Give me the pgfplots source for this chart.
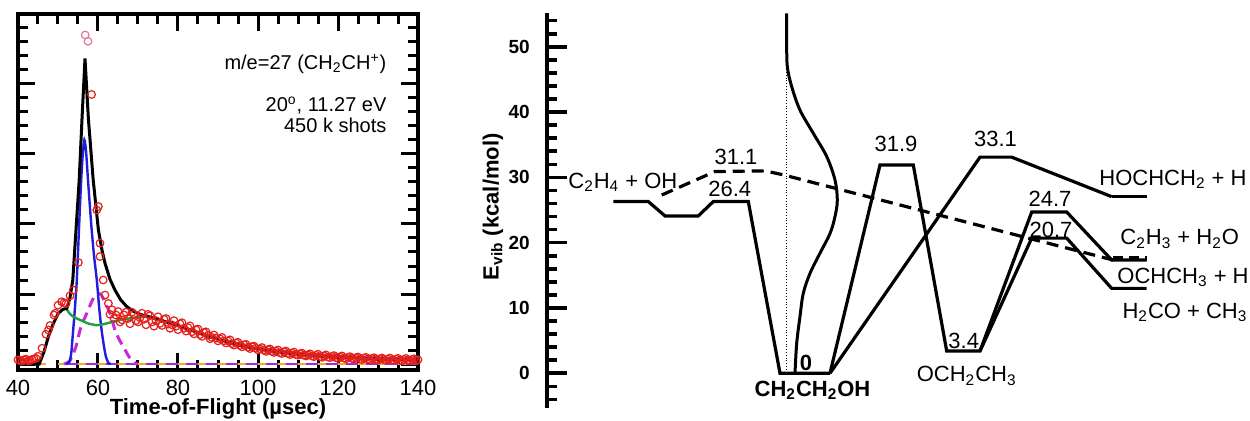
\documentclass[border=0pt]{standalone}
\usepackage{pgfplots}
\pgfplotsset{compat=1.18}
\usepackage{fontspec}
\setmainfont{Liberation Sans}
\definecolor{datred}{RGB}{228,32,28}
\definecolor{pinkc}{RGB}{225,120,150}
\definecolor{fitblue}{RGB}{30,30,220}
\definecolor{fitgreen}{RGB}{30,160,60}
\definecolor{fitmag}{RGB}{200,40,220}
\definecolor{basepurp}{RGB}{160,40,230}
\definecolor{baseorange}{RGB}{240,170,40}
\begin{document}
\begin{tikzpicture}
\useasboundingbox (0,0) rectangle (625pt,210.5pt);
% ---------------- left panel ----------------
\begin{axis}[
  at={(9pt,25.5pt)}, anchor=south west,
  scale only axis, width=200pt, height=178pt,
  xmin=40, xmax=140, ymin=-1.71, ymax=100,
  xtick={40,60,...,140}, minor xtick={45,50,...,135},
  ytick={0,20,...,100}, minor ytick={4,8,...,96},
  yticklabels={},
  tick align=inside,
  major tick length=8.5pt, minor tick length=5pt,
  every tick/.style={black, line width=1.5pt},
  every minor tick/.style={black, line width=1.5pt},
  every major tick/.style={black, line width=1.5pt},
  axis line style={line width=2pt},
  /pgf/number format/assume math mode=true,
  xticklabel style={font=\fontsize{11}{13}\selectfont, yshift=-1.5pt},
  xlabel={Time-of-Flight (µsec)},
  xlabel style={font=\fontsize{11}{13}\selectfont\bfseries, at={(axis description cs:0.5,0)}, anchor=center, yshift=-19.5pt},
  clip=true,
]
\addplot[only marks, mark=o, mark size=1.9pt, mark options={datred, line width=0.6pt}] coordinates {
(40,1.2)(40.5,1.0)(41,0.8)(41.5,1.2)(42,1.4)(42.5,0.9)(43,1.0)(43.5,1.3)(44,1.5)(44.5,1.6)(45,2.2)(46,4.5)(47,8.5)(47.6,9.7)(48,11.0)(49,14.0)(49.3,14.5)(50,16.8)(50.9,17.8)(51.5,17.5)(52,17.3)(53,19.5)(53.8,21.1)(55.1,29)
(58.4,77)(59.7,44)(60.1,45)(60.5,30.7)(60.5,34.5)(61.3,24)(61.75,19.7)(62.6,17.3)(63,14.2)
(64,13.0)(65,15.0)(66,12.6)(67,14.8)(68,11.5)(69,14.2)(70,12.0)(71,14.5)(72,11.2)(73,13.8)(74,10.8)(75,13.5)(76,11.0)(77,13.0)(78,10.2)(79,12.4)(80,9.8)(81,11.8)(82,9.4)(83,10.9)(84,8.6)(85,10.0)(86,7.9)(87,9.2)(88,7.2)(89,8.3)(90,6.6)(91,7.6)(92,6.0)(93,6.9)(94,5.4)(95,6.2)(96,4.9)(97,5.6)(98,4.4)(99,5.1)(100,4.0)(101,4.7)(102,3.6)(103,4.3)(104,3.3)(105,4.0)(106,3.0)(107,3.7)(108,2.7)(109,3.4)(110,2.5)(111,3.1)(112,2.3)(113,2.9)(114,2.1)(115,2.8)(116,1.9)(117,2.6)(118,1.8)(119,2.4)(120,1.6)(121,2.3)(122,1.5)(123,2.1)(124,1.4)(125,2.0)(126,1.3)(127,1.9)(128,1.2)(129,1.8)(130,1.1)(131,1.7)(132,1.0)(133,1.7)(134,1.0)(135,1.6)(136,0.9)(137,1.6)(138,0.9)(139,1.5)(140,1.2)
(63.5,15.5)(64.5,14.0)(65.5,12.0)(66.5,14.0)(67.5,13.0)(68.5,14.8)(69.5,12.4)(70.5,13.2)(71.5,12.8)(72.5,14.2)(73.5,12.0)(74.5,12.4)(75.5,11.6)(76.5,12.8)(77.5,11.4)(78.5,11.2)(79.5,10.8)(80.5,11.5)(81.5,10.2)(82.5,10.4)(83.5,9.2)(84.5,9.8)(85.5,8.4)(86.5,9.0)(87.5,8.2)(88.5,7.6)(89.5,7.4)(90.5,7.2)(91.5,6.6)(92.5,6.6)(93.5,5.8)(94.5,6.0)(95.5,5.3)(96.5,5.5)(97.5,4.8)(98.5,5.0)(99.5,4.5)(100.5,4.3)(101.5,4.0)(102.5,4.1)(103.5,3.6)(104.5,3.7)(105.5,3.2)(106.5,3.5)(107.5,3.0)(108.5,3.1)(109.5,2.7)(110.5,2.9)(111.5,2.5)(112.5,2.6)(113.5,2.3)(114.5,2.5)(115.5,2.1)(116.5,2.3)(117.5,2.0)(118.5,2.2)(119.5,1.8)(120.5,2.0)(121.5,1.7)(122.5,1.9)(123.5,1.6)(124.5,1.8)(125.5,1.5)(126.5,1.7)(127.5,1.4)(128.5,1.6)(129.5,1.3)(130.5,1.5)(131.5,1.3)(132.5,1.4)(133.5,1.2)(134.5,1.4)(135.5,1.1)(136.5,1.3)(137.5,1.1)(138.5,1.3)(139.5,1.0)
};
\addplot[only marks, mark=o, mark size=1.9pt, mark options={pinkc, line width=0.6pt}] coordinates {(56.8,94)(57.5,92.2)};
\addplot[basepurp, line width=1.2pt] coordinates {(51.5,0)(140,0)};
\addplot[baseorange, line width=1.2pt, dash pattern=on 4pt off 6pt] coordinates {(40,0)(140,0)};
\addplot[fitmag, line width=1.5pt, dash pattern=on 5pt off 3pt, smooth, tension=0.4] coordinates {
(51.5,0)(53,1)(54.5,5)(55.5,9.7)(56.4,12.5)(57.2,14.5)(58.5,18)(59.3,19.6)(60.1,20.2)(60.9,19.6)(62,17)(63,14.5)(64.25,9.7)(65.3,7)(66.3,5)(67.8,2)(69.25,0.3)(70,0)};
\addplot[fitblue, line width=1.2pt, smooth, tension=0.4] coordinates {
(52,0)(52.8,0.5)(53.3,3)(53.8,9.7)(54.3,17)(54.7,24)(55.3,40)(55.8,52.6)(56.2,60)(56.6,64)(57,61)(57.5,52.6)(58.3,40)(59,31)(59.7,24)(60.3,16)(60.9,9.7)(61.5,5)(62,2)(62.6,0.3)(63.2,0)};
\addplot[fitgreen, line width=1.2pt, smooth, tension=0.4] coordinates {
(52,15.9)(53,14.3)(54,13.4)(55.5,12.6)(57.5,11.6)(59.7,11.1)(61.5,11.4)(63.8,12.1)(66,12.7)(68,13.05)(70,13.4)(72.2,13.5)(74,13.1)(76,12.4)(78,11.7)(80,11.0)(84,9.4)(88,7.8)(92,6.4)(96,5.2)(100,4.3)(106,3.3)(114,2.4)(122,1.9)(130,1.5)(140,1.1)};
\addplot[black, line width=1.5pt] coordinates {
(40,0)(45.3,0)(46.5,3.5)(47.6,7.8)(48.8,11.5)(50.1,14.5)(51.2,15.6)(52.2,15.9)(53,19)(53.7,24)(54.5,38.3)(55.3,52.6)(56,70)(56.75,87.3)(57.6,70)(58.8,52.6)(60.1,38.3)(61,32.5)(61.75,28.8)(63,24.2)(64.25,21.1)(65.7,18.3)(67.2,16.4)(68.8,15.1)(70.5,14.2)(72,13.7)(74,13.1)(76,12.4)(78,11.7)(80,11.0)(82,10.2)(84,9.4)(86,8.6)(88,7.8)(90,7.1)(92,6.4)(94,5.8)(96,5.2)(98,4.7)(100,4.3)(103,3.8)(106,3.3)(110,2.8)(114,2.4)(118,2.1)(122,1.9)(126,1.7)(130,1.5)(135,1.3)(140,1.1)};
\node[anchor=base east, inner sep=0, font=\fontsize{10}{12}\selectfont] at (axis cs:132.2,84.2) {m/e=27 (CH\textsubscript{2}CH\textsuperscript{+})};
\node[anchor=base east, inner sep=0, font=\fontsize{10}{12}\selectfont] at (axis cs:132.2,72.1) {20\textsuperscript{o}, 11.27 eV};
\node[anchor=base east, inner sep=0, font=\fontsize{10}{12}\selectfont] at (axis cs:132.2,66.2) {450 k shots};
\end{axis}
% ---------------- right panel ----------------
\begin{axis}[
  at={(273.35pt,6.35pt)}, anchor=south west,
  scale only axis, width=351.65pt, height=197.4pt,
  xmin=546.7, xmax=1250, ymin=-5.36, ymax=55.1,
  axis x line=none, axis y line*=left,
  xtick=\empty,
  ytick={0,10,...,50}, minor ytick={-4,-2,...,54},
  tick align=inside,
  major tick length=10pt, minor tick length=5.3pt,
  tick style={black, line width=1.8pt},
  axis line style={line width=2pt},
  /pgf/number format/assume math mode=true,
  yticklabel style={font=\fontsize{9.5}{11}\selectfont\bfseries, xshift=-5pt},
  clip=false,
]
\addplot[black, line width=1.6pt] coordinates {(613.3,26.3)(648.3,26.3)(665,24.1)(698.3,24.1)(713.3,26.3)(748.3,26.3)(780,0)(830,0)};
\addplot[black, line width=1.6pt, dash pattern=on 6pt off 3.5pt] coordinates {(661.7,27.3)(715,30.9)(765,31.0)(783,30.4)(1113,17.35)};
\addplot[black, line width=2.6pt, dash pattern=on 5pt off 3pt] coordinates {(1113,17.6)(1146.7,17.6)};
\addplot[black, line width=1.6pt] coordinates {(830,0)(880,31.9)(913.3,31.9)(946.7,3.4)(980,3.4)(1031.7,24.7)(1066.7,24.7)(1111.7,17.35)(1146.7,17.35)};
\addplot[black, line width=1.6pt] coordinates {(980,3.4)(1031.7,20.7)(1066.7,20.7)(1111.7,13.0)(1146.7,13.0)};
\addplot[black, line width=1.6pt] coordinates {(830,0)(980,33.1)(1011.7,33.1)(1111.7,27.05)};
\addplot[black, line width=1.2pt] coordinates {(1111.7,27.05)(1146.7,27.05)};
\addplot[black, line width=0.4pt, densely dotted] coordinates {(786.7,47)(786.7,0)};
\addplot[black, line width=1.5pt, smooth, tension=0.55] coordinates {(786.7,55.1)(786.7,51)(787.3,47)(791.7,43.9)(800,40.3)(813.3,36.75)(826.7,33.2)(835,29.6)(837.3,26.5)(835,24)(830,21.4)(820,18.4)(810,15.3)(803.3,12.25)(800,8.7)(796.7,4.6)(795,0)};
\node[rotate=90, anchor=center, inner sep=0, font=\fontsize{11}{13}\selectfont\bfseries] at (axis cs:493,25.5) {E\textsubscript{vib} (kcal/mol)};
\begin{scope}[every node/.style={inner sep=0, font=\fontsize{11}{13}\selectfont}]
\node[anchor=base west] at (axis cs:568,28.3) {C\textsubscript{2}H\textsubscript{4} + OH};
\node[anchor=base] at (axis cs:736,31.9) {31.1};
\node[anchor=base] at (axis cs:729.7,27.05) {26.4};
\node[anchor=base] at (axis cs:896,33.9) {31.9};
\node[anchor=base] at (axis cs:995.5,34.7) {33.1};
\node[anchor=base] at (axis cs:1050,25.6) {24.7};
\node[anchor=base] at (axis cs:1051,20.8) {20.7};
\node[anchor=base] at (axis cs:963.7,3.8) {3.4};
\node[anchor=base, font=\fontsize{11}{13}\selectfont\bfseries] at (axis cs:806,0.5) {0};
\node[anchor=base, font=\fontsize{11}{13}\selectfont\bfseries] at (axis cs:812.5,-3.5) {CH\textsubscript{2}CH\textsubscript{2}OH};
\node[anchor=base] at (axis cs:966.7,-1.3) {OCH\textsubscript{2}CH\textsubscript{3}};
\node[anchor=base] at (axis cs:1173,28.8) {HOCHCH\textsubscript{2} + H};
\node[anchor=base] at (axis cs:1179.7,19.65) {C\textsubscript{2}H\textsubscript{3} + H\textsubscript{2}O};
\node[anchor=base] at (axis cs:1183,13.8) {OCHCH\textsubscript{3} + H};
\node[anchor=base] at (axis cs:1185,8.4) {H\textsubscript{2}CO + CH\textsubscript{3}};
\end{scope}
\end{axis}
\end{tikzpicture}
\end{document}
